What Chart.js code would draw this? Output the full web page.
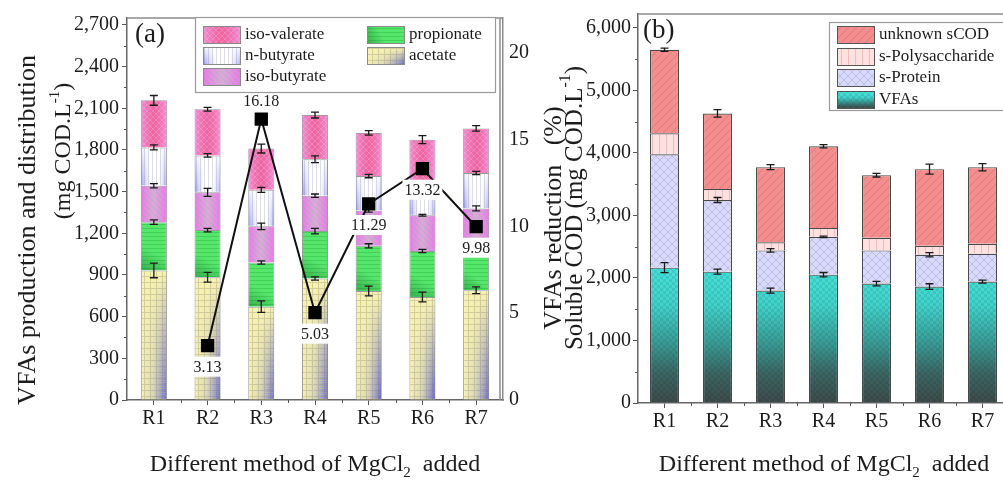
<!DOCTYPE html>
<html lang="en">
<head>
<meta charset="UTF-8">
<title>VFAs distribution and soluble COD</title>
<script src="https://cdn.jsdelivr.net/npm/chart.js"></script>
<style>
  html, body { margin: 0; padding: 0; background: #fff; overflow: hidden; }
  #wrap { position: relative; width: 1003px; height: 482px; overflow: hidden; }
  canvas { position: absolute; top: 0; }
  #chartA { left: 0; }
  #chartB { left: 540px; }
</style>
</head>
<body>
<div id="wrap">
  <canvas id="chartA" width="600" height="482" style="width:600px;height:482px"></canvas>
  <canvas id="chartB" width="480" height="482" style="width:480px;height:482px"></canvas>
</div>
<script>
const FONT = "'Liberation Serif', 'Times New Roman', serif";
const INK = '#1c1c1c';

const reactors = ['R1', 'R2', 'R3', 'R4', 'R5', 'R6', 'R7'];

// (a) VFAs distribution, mg COD/L (height of each stacked part)
const acetate     = [933, 884, 672, 875, 785, 742, 790];
const propionate  = [347, 339, 318, 341, 325, 331, 250];
const isoButyrate = [262, 272, 260, 255, 255, 257, 339];
const nButyrate   = [276, 266, 263, 262, 247, 230, 255];
const isoValerate = [339, 332, 297, 318, 311, 314, 321];
// error bars at the top of each part
const acetateErr     = [53, 35, 41, 12, 35, 35, 24];
const propionateErr  = [16, 12, 12, 20, 15, 12, 0];
const isoButyrateErr = [15, 29, 24, 12, 12, 7, 18];
const nButyrateErr   = [18, 12, 18, 24, 12, 0, 12];
const isoValerateErr = [35, 14, 32, 21, 16, 29, 20];
// VFAs reduction, %
const reduction = [null, 3.13, 16.18, 5.03, 11.29, 13.32, 9.98];

// (b) soluble COD, mg COD/L
const vfas        = [2164, 2100, 1798, 2052, 1909, 1862, 1941];
const sProtein    = [1814, 1146, 642, 605, 531, 509, 446];
const sPolysacch  = [334, 175, 130, 143, 201, 143, 159];
const unknownSCOD = [1336, 1209, 1201, 1305, 1002, 1225, 1225];
const vfasErr     = [80, 40, 40, 35, 35, 45, 25];
const sProteinErr = [0, 40, 27, 12, 0, 35, 0];
const sPolyErr    = [0, 0, 0, 0, 0, 0, 0];
const unknownErr  = [27, 60, 40, 27, 29, 80, 58];

// tick values
const ticksA  = [0, 300, 600, 900, 1200, 1500, 1800, 2100, 2400, 2700];
const ticksA2 = [0, 5, 10, 15, 20];
const ticksB  = [0, 1000, 2000, 3000, 4000, 5000, 6000];

// ---------- fills ----------
function makePattern(size, bg, draw) {
  const c = document.createElement('canvas');
  c.width = c.height = size;
  const g = c.getContext('2d');
  if (bg) { g.fillStyle = bg; g.fillRect(0, 0, size, size); }
  draw(g, size);
  return g.createPattern(c, 'repeat');
}
function diag(g, s, color, w, back) {
  g.strokeStyle = color; g.lineWidth = w;
  g.beginPath();
  for (const k of [-s, 0, s]) {
    if (back) { g.moveTo(k, 0); g.lineTo(k + s, s); }
    else { g.moveTo(k, s); g.lineTo(k + s, 0); }
  }
  g.stroke();
}
function hGrad(ctx, x0, x1, stops) {
  const g = ctx.createLinearGradient(x0, 0, x1, 0);
  stops.forEach(([o, c]) => g.addColorStop(o, c));
  return g;
}
// horizontal gradient that gets stronger towards the bottom
function fadeDown(ctx, x0, y0, x1, y1, fill, a0, a1) {
  const n = Math.max(1, Math.ceil((y1 - y0) / 2));
  ctx.fillStyle = fill;
  for (let i = 0; i < n; i++) {
    ctx.globalAlpha = a0 + (a1 - a0) * (i / n);
    ctx.fillRect(x0, y0 + i * 2, x1 - x0, 2);
  }
  ctx.globalAlpha = 1;
}

const stAcetate = {
  bg: makePattern(6, '#f7f3b3', (g, s) => { g.fillStyle = '#d6cf99'; g.fillRect(0, 0, s, 1); g.fillRect(0, 0, 1, s); }),
  over(ctx, x0, y0, x1, y1, area) {
    const start = area ? Math.max(y0, area.bottom - 130) : y0;
    const fill = hGrad(ctx, x0, x1, [[0, 'rgba(120,120,200,0)'], [0.45, 'rgba(130,130,200,0.25)'], [1, 'rgba(90,90,190,0.95)']]);
    fadeDown(ctx, x0, start, x1, y1, fill, 0, 1);
  }
};
const stProp = {
  bg: makePattern(4, '#55e66c', (g, s) => { g.fillStyle = '#42d05a'; g.fillRect(0, 0, s, 1); }),
  over(ctx, x0, y0, x1, y1) {
    const g = ctx.createLinearGradient(x1, y0, x0, y1);
    g.addColorStop(0, 'rgba(0,70,20,0)'); g.addColorStop(0.6, 'rgba(0,70,20,0)'); g.addColorStop(1, 'rgba(0,70,20,0.35)');
    ctx.fillStyle = g; ctx.fillRect(x0, y0, x1 - x0, y1 - y0);
  }
};
const stIsoB = {
  bg: makePattern(6, '#ea8aea', (g, s) => diag(g, s, '#aaa2aa', 1.2, true)),
  over(ctx, x0, y0, x1, y1) {
    ctx.fillStyle = hGrad(ctx, x0, x1, [[0, 'rgba(236,110,236,0.6)'], [0.5, 'rgba(205,198,205,0.55)'], [1, 'rgba(236,110,236,0.6)']]);
    ctx.fillRect(x0, y0, x1 - x0, y1 - y0);
  }
};
const stNB = {
  bg: makePattern(4, '#ffffff', (g, s) => { g.fillStyle = '#dcdcea'; g.fillRect(0, 0, 1, s); }),
  over(ctx, x0, y0, x1, y1) {
    const fill = hGrad(ctx, x0, x1, [[0, 'rgba(105,105,225,0.75)'], [0.35, 'rgba(150,150,235,0)'], [0.7, 'rgba(150,150,235,0)'], [1, 'rgba(105,105,225,0.6)']]);
    fadeDown(ctx, x0, y0, x1, y1, fill, 0.15, 1);
  }
};
const stIsoV = {
  bg: makePattern(6, '#f07ab4', (g, s) => { diag(g, s, '#f6a8d0', 1, true); diag(g, s, '#f6a8d0', 1, false); }),
  over(ctx, x0, y0, x1, y1) {
    ctx.fillStyle = hGrad(ctx, x0, x1, [[0, 'rgba(240,160,235,0.6)'], [0.5, 'rgba(232,60,125,0.35)'], [1, 'rgba(240,160,235,0.6)']]);
    ctx.fillRect(x0, y0, x1 - x0, y1 - y0);
  }
};

function vfaGrad(ctx, top, bot) {
  const g = ctx.createLinearGradient(0, bot, 0, top);
  g.addColorStop(0, '#3e4a48'); g.addColorStop(0.2, '#3b6663'); g.addColorStop(0.4, '#3a9b95');
  g.addColorStop(0.65, '#41d2ca'); g.addColorStop(1, '#47e6de');
  return g;
}
const checker = makePattern(6, null, (g) => { g.fillStyle = 'rgba(0,40,40,0.10)'; g.fillRect(0, 0, 3, 3); g.fillRect(3, 3, 3, 3); });
const stVfa = {
  bg: (c) => { const a = c.chart.chartArea; return a ? vfaGrad(c.chart.ctx, a.bottom - 150, a.bottom) : '#47e6de'; },
  swatch: (ctx, x, y, w, h) => vfaGrad(ctx, y, y + h),
  over(ctx, x0, y0, x1, y1) { ctx.fillStyle = checker; ctx.fillRect(x0, y0, x1 - x0, y1 - y0); }
};
const stProt = { bg: makePattern(8, '#d9d9fa', (g, s) => { diag(g, s, '#bcbce6', 1, true); diag(g, s, '#bcbce6', 1, false); }) };
const stPoly = { bg: makePattern(7, '#fde1e1', (g, s) => { g.fillStyle = '#efbcbc'; g.fillRect(0, 0, 1, s); }) };
const stUnk  = { bg: makePattern(8, '#f38e8e', (g, s) => diag(g, s, '#e47878', 1, false)) };

// ---------- drawing helpers ----------
function rich(ctx, parts, x, y, size, opts) {
  opts = opts || {};
  ctx.save();
  ctx.translate(x, y);
  if (opts.rotate) ctx.rotate(opts.rotate);
  ctx.textBaseline = opts.baseline || 'middle';
  ctx.textAlign = 'left';
  ctx.fillStyle = INK;
  const items = parts.map(([t, kind]) => {
    const s = kind ? Math.round(size * 0.62) : size;
    ctx.font = s + 'px ' + FONT;
    return { t, s, w: ctx.measureText(t).width, dy: kind === 'sup' ? -size * 0.36 : kind === 'sub' ? size * 0.26 : 0 };
  });
  const total = items.reduce((a, it) => a + it.w, 0);
  let cx = opts.align === 'left' ? 0 : -total / 2;
  items.forEach(it => { ctx.font = it.s + 'px ' + FONT; ctx.fillText(it.t, cx, it.dy); cx += it.w; });
  ctx.restore();
}

function overlayBars(chart, meta, fn) {
  if (!fn) return;
  const ctx = chart.ctx;
  meta.data.forEach(el => {
    const p = el.getProps(['x', 'y', 'base', 'width'], true);
    const x0 = p.x - p.width / 2, x1 = p.x + p.width / 2;
    const t = Math.min(p.y, p.base), b = Math.max(p.y, p.base);
    ctx.save();
    ctx.beginPath(); ctx.rect(x0 + 0.5, t + 0.5, x1 - x0 - 1, b - t - 1); ctx.clip();
    fn(ctx, x0, t, x1, b, chart.chartArea);
    ctx.restore();
  });
}

function drawErrors(chart, segs, errs, cap) {
  const { ctx, scales: { x, y } } = chart;
  ctx.save();
  ctx.strokeStyle = '#1a1a1a';
  ctx.lineWidth = 1.3;
  for (let j = 0; j < segs[0].length; j++) {
    let sum = 0;
    segs.forEach((s, k) => {
      sum += s[j];
      const e = errs[k][j];
      if (!e) return;
      const px = x.getPixelForValue(j);
      const yt = y.getPixelForValue(sum + e), yb = y.getPixelForValue(sum - e);
      ctx.beginPath();
      ctx.moveTo(px, yt); ctx.lineTo(px, yb);
      ctx.moveTo(px - cap / 2, yt); ctx.lineTo(px + cap / 2, yt);
      ctx.moveTo(px - cap / 2, yb); ctx.lineTo(px + cap / 2, yb);
      ctx.stroke();
    });
  }
  ctx.restore();
}

function minorTicks(chart, from, step, to, len) {
  const { ctx, chartArea: a, scales: { x, y } } = chart;
  ctx.save();
  ctx.strokeStyle = '#555'; ctx.lineWidth = 1;
  ctx.beginPath();
  for (let v = from; v <= to; v += step) {
    const py = Math.round(y.getPixelForValue(v)) + 0.5;
    ctx.moveTo(a.left - len, py); ctx.lineTo(a.left, py);
  }
  for (let i = 0; i < reactors.length - 1; i++) {
    const px = Math.round((x.getPixelForValue(i) + x.getPixelForValue(i + 1)) / 2) + 0.5;
    ctx.moveTo(px, a.bottom); ctx.lineTo(px, a.bottom + len);
  }
  ctx.stroke();
  ctx.restore();
}

function drawSwatch(ctx, st, x, y, w, h, edge) {
  ctx.save();
  ctx.fillStyle = st.swatch ? st.swatch(ctx, x, y, w, h) : st.bg;
  ctx.fillRect(x, y, w, h);
  if (st.over) {
    ctx.beginPath(); ctx.rect(x, y, w, h); ctx.clip();
    st.over(ctx, x, y, x + w, y + h, null);
  }
  ctx.restore();
  ctx.strokeStyle = edge; ctx.lineWidth = 1;
  ctx.strokeRect(x + 0.5, y + 0.5, w - 1, h - 1);
}

function drawLegend(ctx, box, items, edge) {
  ctx.save();
  ctx.fillStyle = '#fff';
  ctx.fillRect(box[0], box[1], box[2], box[3]);
  ctx.strokeStyle = '#9a9a9a'; ctx.lineWidth = 1.2;
  ctx.strokeRect(box[0] + 0.5, box[1] + 0.5, box[2], box[3]);
  items.forEach(it => {
    drawSwatch(ctx, it.st, it.x, it.y - 9, 38, 18, edge);
    ctx.fillStyle = INK;
    ctx.font = '17px ' + FONT;
    ctx.textAlign = 'left'; ctx.textBaseline = 'middle';
    ctx.fillText(it.label, it.x + 42, it.y);
  });
  ctx.restore();
}

function drawFrame(chart, doubleRight) {
  const { ctx, chartArea: a } = chart;
  ctx.save();
  ctx.strokeStyle = '#8c8c8c'; ctx.lineWidth = 1.5;
  ctx.beginPath();
  ctx.moveTo(a.left, a.top); ctx.lineTo(a.right, a.top);
  if (doubleRight) { ctx.moveTo(a.right - 3, a.top); ctx.lineTo(a.right - 3, a.bottom); }
  ctx.stroke();
  ctx.restore();
}

const tickFont = { family: FONT, size: 20 };
const fmt = v => v.toLocaleString('en-US');
const useTicks = list => s => { s.ticks = list.map(v => ({ value: v })); };
const peak = reduction.indexOf(Math.max(...reduction.filter(v => v != null)));

// ---------- chart (a) ----------
const overlaysA = [null, stAcetate.over, stProp.over, stIsoB.over, stNB.over, stIsoV.over];
const decorA = {
  id: 'decorA',
  afterDatasetDraw(chart, args) { overlayBars(chart, args.meta, overlaysA[args.index]); },
  beforeDatasetDraw(chart, args) {
    if (args.index === 0) {
      drawErrors(chart, [acetate, propionate, isoButyrate, nButyrate, isoValerate],
        [acetateErr, propionateErr, isoButyrateErr, nButyrateErr, isoValerateErr], 8);
    }
  },
  afterDraw(chart) {
    const ctx = chart.ctx;
    drawFrame(chart, true);
    minorTicks(chart, 150, 300, 2600, 3);
    // value labels of the reduction line
    const meta = chart.getDatasetMeta(0);
    ctx.save();
    ctx.font = '16px ' + FONT; ctx.textAlign = 'center'; ctx.textBaseline = 'middle';
    meta.data.forEach((pt, j) => {
      const v = reduction[j];
      if (v == null) return;
      const cy = pt.y + (j === peak ? -18 : 21);
      const t = v.toFixed(2);
      const w = ctx.measureText(t).width + 4;
      ctx.fillStyle = '#fff'; ctx.fillRect(pt.x - w / 2, cy - 10, w, 20);
      ctx.fillStyle = INK; ctx.fillText(t, pt.x, cy + 1);
    });
    ctx.restore();
    drawLegend(ctx, [195, 17, 300, 75], [
      { st: stIsoV, label: 'iso-valerate', x: 203, y: 35 },
      { st: stNB, label: 'n-butyrate', x: 203, y: 56 },
      { st: stIsoB, label: 'iso-butyrate', x: 203, y: 77 },
      { st: stProp, label: 'propionate', x: 367, y: 35 },
      { st: stAcetate, label: 'acetate', x: 367, y: 56 }
    ], '#8a8a8a');
    rich(ctx, [['(a)']], 135, 42, 27, { align: 'left', baseline: 'alphabetic' });
    rich(ctx, [['VFAs production and distribution']], 28, 230, 26, { rotate: -Math.PI / 2 });
    rich(ctx, [['(mg COD.L'], ['-1', 'sup'], [')']], 64, 151, 24, { rotate: -Math.PI / 2 });
    rich(ctx, [['VFAs reduction   (%)']], 554, 218, 26, { rotate: -Math.PI / 2 });
    rich(ctx, [['Different method of MgCl'], ['2', 'sub'], ['  added']], 315, 471, 24, { baseline: 'alphabetic' });
  }
};

new Chart(document.getElementById('chartA'), {
  type: 'bar',
  data: {
    labels: reactors,
    datasets: [
      { type: 'line', label: 'VFAs reduction', data: reduction, yAxisID: 'y1', order: 0,
        borderColor: '#111', borderWidth: 2, pointStyle: 'rect', pointRadius: 8,
        pointBackgroundColor: '#000', pointBorderColor: '#000', spanGaps: false },
      { label: 'acetate', data: acetate, backgroundColor: stAcetate.bg, order: 1 },
      { label: 'propionate', data: propionate, backgroundColor: stProp.bg, order: 1 },
      { label: 'iso-butyrate', data: isoButyrate, backgroundColor: stIsoB.bg, order: 1 },
      { label: 'n-butyrate', data: nButyrate, backgroundColor: stNB.bg, order: 1 },
      { label: 'iso-valerate', data: isoValerate, backgroundColor: stIsoV.bg, order: 1 }
    ]
  },
  options: {
    responsive: false, animation: false, devicePixelRatio: 1, events: [],
    layout: { padding: { top: 11, left: 0, right: 0, bottom: 0 } },
    datasets: { bar: { barPercentage: 0.485, categoryPercentage: 1, borderColor: '#9a9a9a', borderWidth: 1 } },
    plugins: { legend: { display: false }, tooltip: { enabled: false } },
    scales: {
      x: {
        stacked: true, offset: true,
        grid: { display: true, offset: false, drawOnChartArea: false, tickLength: 5, color: '#555' },
        border: { color: '#666', width: 1.5 },
        ticks: { font: tickFont, color: INK, padding: 2 },
        afterFit: s => { s.height = 82; }
      },
      y: {
        stacked: true, min: 0, max: 2750,
        grid: { drawOnChartArea: false, tickLength: 5, color: '#555' },
        border: { color: '#666', width: 1.5 },
        ticks: { callback: fmt, font: tickFont, color: INK, padding: 3 },
        afterBuildTicks: useTicks(ticksA),
        afterFit: s => { s.width = 127; }
      },
      y1: {
        position: 'right', min: 0, max: 22,
        grid: { display: false, drawTicks: false },
        border: { color: '#8c8c8c', width: 1.5 },
        ticks: { font: tickFont, color: INK, padding: 6 },
        afterBuildTicks: useTicks(ticksA2),
        afterFit: s => { s.width = 97; }
      }
    }
  },
  plugins: [decorA]
});

// ---------- chart (b) ----------
const OX = 540;
const overlaysB = [stVfa.over, null, null, null];
const decorB = {
  id: 'decorB',
  afterDatasetDraw(chart, args) { overlayBars(chart, args.meta, overlaysB[args.index]); },
  afterDatasetsDraw(chart) {
    drawErrors(chart, [vfas, sProtein, sPolysacch, unknownSCOD], [vfasErr, sProteinErr, sPolyErr, unknownErr], 8);
  },
  afterDraw(chart) {
    const ctx = chart.ctx;
    drawFrame(chart, false);
    minorTicks(chart, 500, 1000, 5600, 3);
    drawLegend(ctx, [829 - OX, 22, 190, 88], [
      { st: stUnk, label: 'unknown sCOD', x: 837 - OX, y: 35 },
      { st: stPoly, label: 's-Polysaccharide', x: 837 - OX, y: 57 },
      { st: stProt, label: 's-Protein', x: 837 - OX, y: 78 },
      { st: stVfa, label: 'VFAs', x: 837 - OX, y: 100 }
    ], '#555');
    rich(ctx, [['(b)']], 643 - OX, 38, 27, { align: 'left', baseline: 'alphabetic' });
    rich(ctx, [['Soluble COD (mg COD.L'], ['-1', 'sup'], [')']], 575 - OX, 208, 25, { rotate: -Math.PI / 2 });
    rich(ctx, [['Different method of MgCl'], ['2', 'sub'], ['  added']], 824 - OX, 471, 24, { baseline: 'alphabetic' });
  }
};

new Chart(document.getElementById('chartB'), {
  type: 'bar',
  data: {
    labels: reactors,
    datasets: [
      { label: 'VFAs', data: vfas, backgroundColor: stVfa.bg },
      { label: 's-Protein', data: sProtein, backgroundColor: stProt.bg },
      { label: 's-Polysaccharide', data: sPolysacch, backgroundColor: stPoly.bg },
      { label: 'unknown sCOD', data: unknownSCOD, backgroundColor: stUnk.bg }
    ]
  },
  options: {
    responsive: false, animation: false, devicePixelRatio: 1, events: [],
    layout: { padding: { top: 12, left: 0, right: 11, bottom: 0 } },
    datasets: { bar: { barPercentage: 0.55, categoryPercentage: 1, borderColor: '#4a4a4a', borderWidth: 1.2 } },
    plugins: { legend: { display: false }, tooltip: { enabled: false } },
    scales: {
      x: {
        stacked: true, offset: true,
        grid: { display: true, offset: false, drawOnChartArea: false, tickLength: 5, color: '#555' },
        border: { color: '#666', width: 1.5 },
        ticks: { font: tickFont, color: INK, padding: 2 },
        afterFit: s => { s.height = 79; }
      },
      y: {
        stacked: true, min: 0, max: 6220,
        grid: { drawOnChartArea: false, tickLength: 5, color: '#555' },
        border: { color: '#666', width: 1.5 },
        ticks: { callback: fmt, font: tickFont, color: INK, padding: 2 },
        afterBuildTicks: useTicks(ticksB),
        afterFit: s => { s.width = 98; }
      }
    }
  },
  plugins: [decorB]
});
</script>
</body>
</html>
